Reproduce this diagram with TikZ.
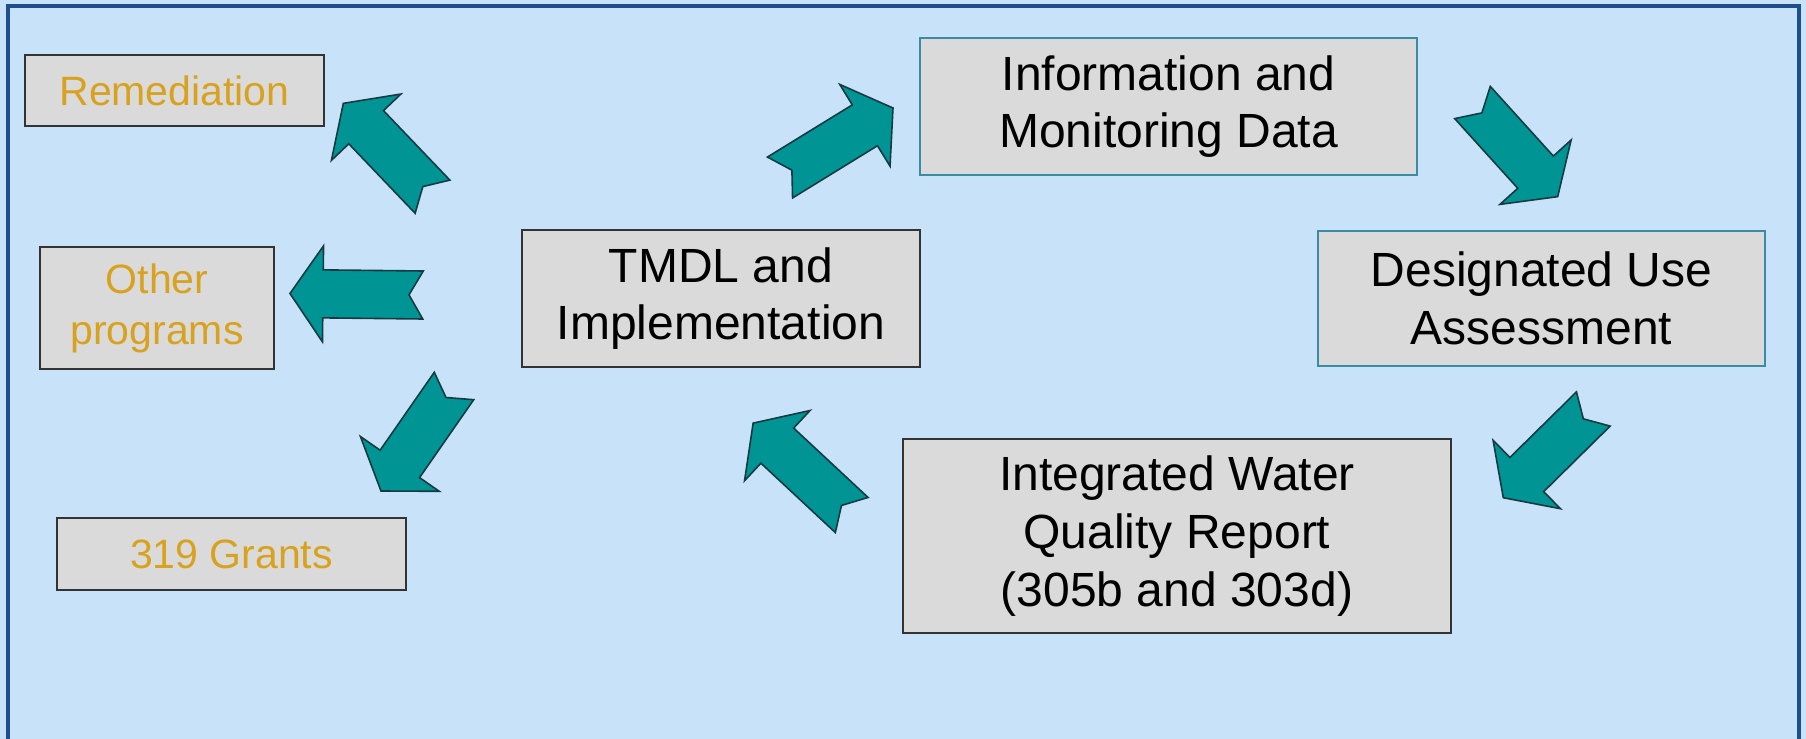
\documentclass[tikz,border=0pt]{standalone}
\usepackage{fontspec}
\setmainfont{Liberation Sans}
\definecolor{bgblue}{HTML}{C8E3F9}
\definecolor{frameblue}{HTML}{1F4E8C}
\definecolor{boxgray}{HTML}{DADADA}
\definecolor{tealfill}{HTML}{009494}
\definecolor{arrline}{HTML}{173A40}
\definecolor{goldtext}{HTML}{D9A21E}
\definecolor{tealedge}{HTML}{3A8CA6}
% notched block arrow: #1,#2 tail centre (px), #3,#4 tip (px)
\newcommand\flowarrow[4]{%
  \pgfmathsetmacro\fadx{#3-#1}%
  \pgfmathsetmacro\fady{#2-#4}%
  \pgfmathsetmacro\faang{atan2(\fady,\fadx)}%
  \pgfmathsetmacro\falen{0.5*veclen(\fadx,\fady)}%
  \pgfmathsetmacro\fahb{\falen-16.5}%
  \draw[notcharrow, shift={(#1,#2)}, rotate=\faang]
    (0pt,12pt) -- (\fahb pt,12pt) -- (\fahb pt,24pt) -- (\falen pt,0pt)
    -- (\fahb pt,-24pt) -- (\fahb pt,-12pt) -- (0pt,-12pt) -- (7pt,0pt) -- cycle;}
\begin{document}
\begin{tikzpicture}[x=0.5pt,y=-0.5pt,
  notcharrow/.style={fill=tealfill, draw=arrline, line width=0.8pt, line join=miter},
  darkbox/.style={draw=black!80, line width=1.2pt, fill=boxgray, inner sep=0pt, align=center,
    font=\fontsize{24}{28.8}\selectfont},
  tealbox/.style={darkbox, draw=tealedge, line width=1pt},
  goldbox/.style={darkbox, text=goldtext, font=\fontsize{20.5}{25.5}\selectfont}]
\useasboundingbox[fill=bgblue] (0,0) rectangle (1806,739);
\draw[frameblue, line width=2pt] (8,739) -- (8,6) -- (1799,6) -- (1799,739);

\node[goldbox, minimum width=149.5pt, minimum height=35.5pt] (rem) at (174.5,90.5) {Remediation};
\node[goldbox, minimum width=117pt, minimum height=61pt] (oth) at (157,308) {Other\\programs};
\node[goldbox, minimum width=174.5pt, minimum height=36pt] (grants) at (231.5,554) {319 Grants};
\node[darkbox, minimum width=199pt, minimum height=68.5pt] (tmdl) at (721,298.5) {TMDL and\\Implementation};
\node[tealbox, minimum width=248.5pt, minimum height=68.5pt] (info) at (1168.5,106.5) {Information and\\Monitoring Data};
\node[tealbox, minimum width=223.5pt, minimum height=67.5pt] (des) at (1541.5,298.5) {Designated Use\\Assessment};
\node[darkbox, minimum width=274pt, minimum height=97pt] (iwq) at (1177,536) {Integrated Water\\Quality Report\\(305b and 303d)};

\flowarrow{432.5}{196.7}{343}{103}
\flowarrow{423}{295}{290}{293.5}
\flowarrow{454}{386}{381}{491}
\flowarrow{780}{177.5}{893}{108}
\flowarrow{1472.5}{102.5}{1558}{197}
\flowarrow{1593.3}{409}{1503}{498}
\flowarrow{851.7}{515}{753}{423}
\end{tikzpicture}
\end{document}
